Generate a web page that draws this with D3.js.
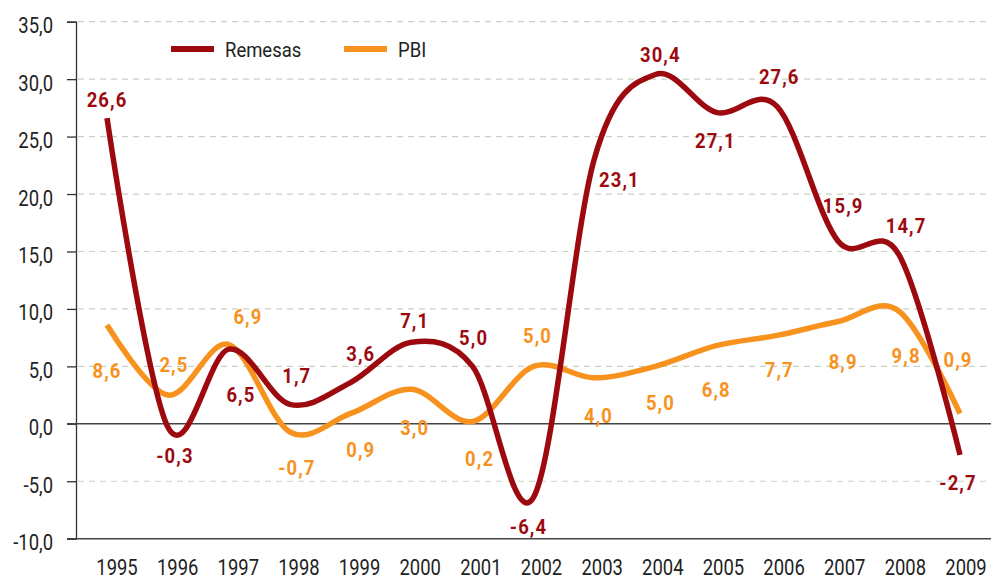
<!DOCTYPE html>
<html>
<head>
<meta charset="utf-8">
<script src="https://cdn.jsdelivr.net/npm/d3@7.9.0/dist/d3.min.js"></script>
<style>
  body { margin: 0; background: #fff; }
  svg text { font-family: Roboto, "Liberation Sans", sans-serif; }
</style>
</head>
<body>
<svg id="chart" width="991" height="581"></svg>
<script>
const years = ['1995', '1996', '1997', '1998', '1999', '2000', '2001', '2002',
  '2003', '2004', '2005', '2006', '2007', '2008', '2009'];
const remesas = [26.6, -0.3, 6.5, 1.7, 3.6, 7.1, 5.0, -6.4, 23.1, 30.4, 27.1, 27.6, 15.9, 14.7, -2.7];
const pbi = [8.6, 2.5, 6.9, -0.7, 0.9, 3.0, 0.2, 5.0, 4.0, 5.0, 6.8, 7.7, 8.9, 9.8, 0.9];
const yTicks = [-10, -5, 0, 5, 10, 15, 20, 25, 30, 35];

// label placement around each point (px)
const remesasDx = [0, 7, 12, 7, 10, 3, 1, -5, 25, 5, -1, 2, 5, 7, -2];
const remesasDy = [-11, 36, 53, -21, -21, -14, -21, 37, 29, -13, 36, -23, -28, -22, 35];
const pbiDx = [0, 6, 19, 7, 10, 3, 7, 4, 4, 5, 0, 2, 5, 7, -2];
const pbiDy = [53, -23, -21, 43, 44, 46, 44, -23, 45, 44, 51, 42, 47, 52, -46];

const red = '#9c0a10';
const orange = '#f7921e';
const squeeze = 0.82;

const svg = d3.select('#chart');
const fmt = (v) => d3.format('.1f')(v).replace('.', ',').replace('−', '-');

let x = d3.scalePoint().domain(years).range([107, 960]);
let xLabel = d3.scalePoint().domain(years).range([117, 966]);
let y = d3.scaleLinear().domain([-10, 35]).range([538.7, 21.7]);

// gridlines
svg.append('g')
  .selectAll('line')
  .data(yTicks.filter((d) => d !== 0 && d !== -10))
  .join('line')
  .attr('x1', 78).attr('x2', 991)
  .attr('y1', (d) => y(d)).attr('y2', (d) => y(d))
  .attr('stroke', '#c9d2c2')
  .attr('stroke-width', 1.2)
  .attr('stroke-dasharray', '6,5');

// y axis
let yAxis = svg.append('g')
  .attr('transform', 'translate(76,0)')
  .call(d3.axisLeft(y).tickValues(yTicks).tickSize(9).tickFormat(fmt));
yAxis.select('.domain').attr('stroke', '#333').attr('stroke-width', 1.3);
yAxis.selectAll('.tick line').attr('stroke', '#333').attr('stroke-width', 1.3);
yAxis.selectAll('.tick text')
  .attr('x', 0)
  .attr('dy', 0)
  .attr('transform', `translate(-23,11) scale(${squeeze},1)`)
  .attr('font-size', 22.5)
  .attr('fill', '#222')
  .style('font-family', 'Roboto, sans-serif');

// zero line and bottom line
[0, -10].forEach((v) => {
  svg.append('line')
    .attr('x1', 67).attr('x2', 991)
    .attr('y1', y(v)).attr('y2', y(v))
    .attr('stroke', '#444')
    .attr('stroke-width', 1.6);
});

// x labels
svg.append('g')
  .selectAll('text')
  .data(years)
  .join('text')
  .attr('transform', (d) => `translate(${xLabel(d)},575) scale(${squeeze},1)`)
  .attr('text-anchor', 'middle')
  .attr('font-size', 22.5)
  .attr('fill', '#222')
  .text((d) => d);

// lines
let line = d3.line()
  .x((d, i) => x(years[i]))
  .y((d) => y(d))
  .curve(d3.curveCardinal.tension(0));

const series = [
  { name: 'Remesas', values: remesas, color: red, dx: remesasDx, dy: remesasDy },
  { name: 'PBI', values: pbi, color: orange, dx: pbiDx, dy: pbiDy },
];

series.slice().reverse().forEach((s) => {
  svg.append('path')
    .attr('d', line(s.values))
    .attr('fill', 'none')
    .attr('stroke', s.color)
    .attr('stroke-width', 5.5);
});

// data labels
series.forEach((s) => {
  svg.append('g')
    .selectAll('text')
    .data(s.values)
    .join('text')
    .attr('transform', (d, i) =>
      `translate(${x(years[i]) + s.dx[i]},${y(d) + s.dy[i]}) scale(0.9,1)`)
    .attr('text-anchor', 'middle')
    .attr('font-size', 20.5)
    .attr('font-weight', 'bold')
    .attr('letter-spacing', 1.2)
    .attr('fill', s.color)
    .text((d) => fmt(d));
});

// legend
const legendX = [171, 344];
series.forEach((s, i) => {
  svg.append('line')
    .attr('x1', legendX[i]).attr('x2', legendX[i] + 43)
    .attr('y1', 49).attr('y2', 49)
    .attr('stroke', s.color)
    .attr('stroke-width', 6);
  svg.append('text')
    .attr('transform', `translate(${legendX[i] + 54},57) scale(0.88,1)`)
    .attr('font-size', 21)
    .attr('fill', '#222')
    .text(s.name);
});
</script>
</body>
</html>
